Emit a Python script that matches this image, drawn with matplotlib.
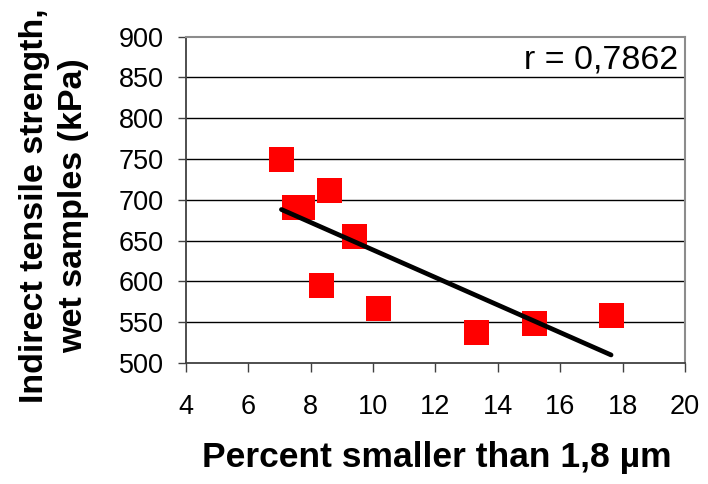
import matplotlib
matplotlib.use("Agg")
import matplotlib.pyplot as plt
import numpy as np

# values
percent_fine = [7.06, 7.48, 7.74, 8.60, 9.39, 8.34, 10.17, 13.33, 15.16, 17.63]
strength_kpa = [749, 691, 691, 711, 655, 595, 567, 538, 548, 558]
x_ticks = [4, 6, 8, 10, 12, 14, 16, 18, 20]
y_ticks = [500, 550, 600, 650, 700, 750, 800, 850, 900]
r_label = "r = 0,7862"

plt.rcParams["font.family"] = ["Liberation Sans", "DejaVu Sans"]

fig = plt.figure(figsize=(7.08, 4.84), dpi=100)
ax = fig.add_axes([0.2627, 0.25, 0.7048, 0.6742])

ax.set_xlim(4, 20)
ax.set_ylim(500, 900)
ax.set_xticks(x_ticks)
ax.set_yticks(y_ticks)

for yv in y_ticks[1:-1]:
    ax.axhline(yv, color="black", lw=1.0, zorder=1)

ax.scatter(percent_fine, strength_kpa, marker="s", s=324, color="#ff0000",
           edgecolors="none", zorder=3)

# linear trend line over the data range
xs = np.array(percent_fine)
slope, icpt = np.polyfit(xs, np.array(strength_kpa), 1)
xl = np.array([xs.min(), xs.max()])
ax.plot(xl, slope * xl + icpt, color="black", lw=3.4, solid_capstyle="round", zorder=4)

ax.text(0.986, 0.904, r_label, transform=ax.transAxes, ha="right", va="baseline",
        fontsize=24.5, zorder=5)

for side in ("top", "right"):
    ax.spines[side].set_color("#8c8c8c")
    ax.spines[side].set_linewidth(1.5)
for side in ("left", "bottom"):
    ax.spines[side].set_color("#404040")
    ax.spines[side].set_linewidth(1.3)

ax.tick_params(axis="y", direction="out", length=6, width=1.0, color="#404040",
               labelsize=19.5, pad=10)
ax.tick_params(axis="x", direction="out", length=6.5, width=1.0, color="#404040",
               labelsize=19.5, pad=16)

fig.text(437 / 708, 17 / 484, "Percent smaller than 1,8 µm", ha="center", va="baseline",
         fontsize=25.5, fontweight="bold")
fig.text(54 / 708, 1 - 206 / 484, "Indirect tensile strength,\nwet samples (kPa)",
         rotation=90, ha="center", va="center", multialignment="center",
         fontsize=24.5, fontweight="bold", linespacing=1.35)

fig.savefig("out.png", dpi=100)
